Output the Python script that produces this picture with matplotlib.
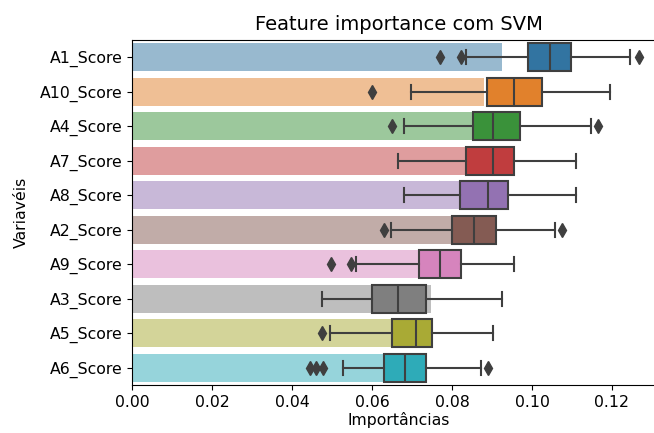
import colorsys
import matplotlib
matplotlib.use("Agg")
import matplotlib.pyplot as plt
import matplotlib.colors as mcolors

# importancias por variavel (permutacao, SVM)
variaveis = ["A1_Score", "A10_Score", "A4_Score", "A7_Score", "A8_Score",
             "A2_Score", "A9_Score", "A3_Score", "A5_Score", "A6_Score"]
media = [0.0924, 0.0881, 0.0850, 0.0835, 0.0820, 0.0799, 0.0716, 0.0748, 0.0650, 0.0629]
q1 = [0.0990, 0.0888, 0.0852, 0.0835, 0.0820, 0.0801, 0.0718, 0.0599, 0.0650, 0.0630]
mediana = [0.1044, 0.0956, 0.0903, 0.0903, 0.0889, 0.0854, 0.0769, 0.0665, 0.0709, 0.0682]
q3 = [0.1097, 0.1024, 0.0971, 0.0956, 0.0941, 0.0909, 0.0822, 0.0735, 0.0750, 0.0735]
whis_min = [0.0835, 0.0697, 0.0681, 0.0665, 0.0681, 0.0648, 0.0561, 0.0475, 0.0495, 0.0527]
whis_max = [0.1245, 0.1194, 0.1148, 0.1111, 0.1111, 0.1058, 0.0956, 0.0924, 0.0903, 0.0873]
outliers = [[0.0771, 0.0823, 0.1267], [0.0600], [0.0651, 0.1165], [], [],
            [0.0631, 0.1075], [0.0497, 0.0548], [], [0.0476],
            [0.0444, 0.0460, 0.0477, 0.0890]]


def desaturate(c, prop=0.75):
    h, l, s = colorsys.rgb_to_hls(*mcolors.to_rgb(c))
    return colorsys.hls_to_rgb(h, l, s * prop)


plt.rcParams["font.size"] = 11.3
cores = [desaturate(c) for c in plt.get_cmap("tab10").colors]
cinza = "#3f3f3f"

fig = plt.figure(figsize=(6.54, 4.33), dpi=100)
# eixo um pouco mais largo que a figura: a borda direita fica de fora
ax = fig.add_axes([132 / 654, 48 / 433, 534 / 654, 345 / 433])

pos = list(range(len(variaveis)))
ax.barh(pos, media, height=0.8, color=cores, alpha=0.5, zorder=1)

stats = []
for i in pos:
    stats.append(dict(med=mediana[i], q1=q1[i], q3=q3[i], whislo=whis_min[i],
                      whishi=whis_max[i], fliers=outliers[i]))
bp = ax.bxp(stats, positions=pos, vert=False, widths=0.8, patch_artist=True,
            boxprops=dict(edgecolor=cinza, linewidth=1.5),
            medianprops=dict(color=cinza, linewidth=1.5),
            whiskerprops=dict(color=cinza, linewidth=1.5),
            capprops=dict(color=cinza, linewidth=1.5),
            flierprops=dict(marker="d", markerfacecolor=cinza, markeredgecolor=cinza,
                            markersize=7.5, linestyle="none"),
            manage_ticks=False, zorder=2)
for caixa, c in zip(bp["boxes"], cores):
    caixa.set_facecolor(c)

ax.set_yticks(pos)
ax.set_yticklabels(variaveis)
ax.set_ylim(len(variaveis) - 0.5, -0.5)
ax.set_xlim(0, 0.1335)
ax.set_xticks([0, 0.02, 0.04, 0.06, 0.08, 0.10, 0.12])
ax.set_title("Feature importance com SVM", fontsize=14, pad=7)
ax.set_xlabel("Importâncias", labelpad=2)
ax.set_ylabel("Variavéis", labelpad=8)

fig.savefig("out.png", dpi=100)
